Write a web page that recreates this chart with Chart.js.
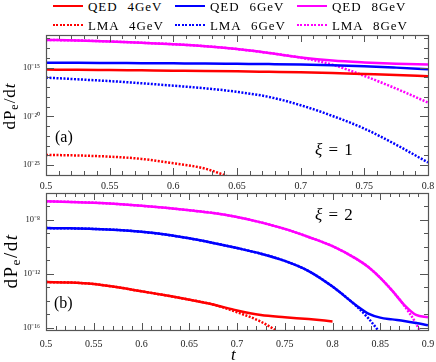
<!DOCTYPE html>
<html>
<head>
<meta charset="utf-8">
<script src="https://cdn.jsdelivr.net/npm/chart.js@4.4.0/dist/chart.umd.min.js"></script>
<style>
  body { margin: 0; background: #fff; }
  #wrap { position: relative; width: 436px; height: 362px; overflow: hidden;
          font-family: 'Liberation Serif', 'Times New Roman', serif; color: #000; }
  .box { position: absolute; left: 0; width: 436px; }
  .leg { position: absolute; height: 14px; display: flex; align-items: center; font-size: 13px;
         letter-spacing: 0.9px; word-spacing: 6px; white-space: nowrap; line-height: 1; }
  .leg .ln { width: 30px; height: 2.5px; margin-right: 5px; }
  .lab { position: absolute; white-space: nowrap; line-height: 1; }
  .ytitle { position: absolute; transform: translate(-50%, -50%) rotate(-90deg);
            white-space: nowrap; line-height: 1; }
  sub { font-size: 70%; vertical-align: -0.3em; line-height: 0; }
</style>
</head>
<body>
<div id="wrap">
  <div class="box" style="top:28px;height:164px"><canvas id="chartA"></canvas></div>
  <div class="box" style="top:190px;height:172px"><canvas id="chartB"></canvas></div>

  <div class="leg" style="left:53px;top:-1px"><span class="ln" style="background:#ff0000"></span>QED 4GeV</div>
  <div class="leg" style="left:175px;top:-1px"><span class="ln" style="background:#0000ff"></span>QED 6GeV</div>
  <div class="leg" style="left:297px;top:-1px"><span class="ln" style="background:#ff00ff"></span>QED 8GeV</div>
  <div class="leg" style="left:53px;top:18px"><span class="ln" style="background:repeating-linear-gradient(to right,#ff0000 0 2px,transparent 2px 3.5px)"></span>LMA 4GeV</div>
  <div class="leg" style="left:175px;top:18px"><span class="ln" style="background:repeating-linear-gradient(to right,#0000ff 0 2px,transparent 2px 3.5px)"></span>LMA 6GeV</div>
  <div class="leg" style="left:297px;top:18px"><span class="ln" style="background:repeating-linear-gradient(to right,#ff00ff 0 2px,transparent 2px 3.5px)"></span>LMA 8GeV</div>

  <div class="ytitle" style="left:9px;top:106px;font-size:17px;letter-spacing:1px">dP<sub>e</sub>/d<i>t</i></div>
  <div class="ytitle" style="left:10px;top:261px;font-size:19px;letter-spacing:1.5px">dP<sub>e</sub>/d<i>t</i></div>

  <div class="lab" style="left:55px;top:129px;font-size:16px">(a)</div>
  <div class="lab" style="left:54px;top:295px;font-size:16px">(b)</div>
  <div class="lab" style="left:315px;top:141px;font-size:17px;word-spacing:2px"><i>ξ</i> = 1</div>
  <div class="lab" style="left:315px;top:206px;font-size:17px;word-spacing:2px"><i>ξ</i> = 2</div>
  <div class="lab" style="left:231px;top:346px;font-size:17px"><i>t</i></div>
</div>

<script>
// panel (a), xi = 1
const tA = [0.5, 0.525, 0.55, 0.575, 0.6, 0.625, 0.65, 0.675, 0.7, 0.725, 0.75, 0.775, 0.8];
const qed4A = [6.31e-16, 6.03e-16, 5.62e-16, 5.25e-16, 4.9e-16, 4.57e-16, 4.17e-16, 3.72e-16, 3.31e-16, 2.75e-16, 2.19e-16, 1.74e-16, 1.32e-16];
const qed6A = [3.24e-15, 3.16e-15, 3.02e-15, 2.88e-15, 2.75e-15, 2.63e-15, 2.45e-15, 2.29e-15, 2.09e-15, 1.78e-15, 1.41e-15, 1.0e-15, 6.76e-16];
const qed8A = [6.92e-13, 6.03e-13, 4.79e-13, 3.55e-13, 2.51e-13, 1.58e-13, 7.94e-14, 3.16e-14, 1.12e-14, 5.25e-15, 3.39e-15, 2.51e-15, 2.14e-15];
const lma4A = [1.15e-24, 1.0e-24, 7.59e-25, 4.47e-25, 1.58e-25, 4.47e-26, 3.16e-27, null, null, null, null, null, null];
const lma6A = [9.55e-17, 6.31e-17, 4.17e-17, 2.51e-17, 1.41e-17, 7.59e-18, 3.31e-18, 1.0e-18, 1.41e-19, 1.12e-20, 5.62e-22, 1.26e-23, 1.91e-25];
const lma8A = [6.92e-13, 6.03e-13, 4.79e-13, 3.55e-13, 2.51e-13, 1.58e-13, 7.94e-14, 3.16e-14, 1.05e-14, 2.0e-15, 1.41e-16, 7.08e-18, 2.63e-19];

// panel (b), xi = 2
const tB = [0.5, 0.525, 0.55, 0.575, 0.6, 0.625, 0.65, 0.675, 0.7, 0.725, 0.75, 0.775, 0.8, 0.825, 0.8375, 0.85, 0.8625, 0.875, 0.8875, 0.9];
const qed4B = [2.4e-13, 2.24e-13, 1.74e-13, 1.0e-13, 5.01e-14, 2.51e-14, 1.2e-14, 5.25e-15, 1.91e-15, 8.91e-16, 6.03e-16, 4.37e-16, 2.95e-16, null, null, null, null, null, null, null];
const qed6B = [2.4e-9, 2.29e-9, 2.09e-9, 1.74e-9, 1.26e-9, 7.94e-10, 4.17e-10, 1.91e-10, 7.94e-11, 3.02e-11, 8.91e-12, 1.58e-12, 1.12e-13, 4.47e-15, 1.12e-15, 5.62e-16, 4.17e-16, 3.16e-16, 2.24e-16, 1.51e-16];
const qed8B = [2.29e-7, 2.09e-7, 1.82e-7, 1.45e-7, 1.07e-7, 7.59e-8, 5.01e-8, 3.16e-8, 1.58e-8, 6.31e-9, 2.09e-9, 5.25e-10, 1.1e-10, 1.26e-11, 3.16e-12, 5.01e-13, 5.62e-14, 5.01e-15, 8.91e-16, 6.03e-16];
const lma4B = [2.4e-13, 2.24e-13, 1.74e-13, 1.0e-13, 5.01e-14, 2.51e-14, 1.2e-14, 5.25e-15, 1.41e-15, 2.82e-16, 2.51e-17, null, null, null, null, null, null, null, null, null];
const lma6B = [2.4e-9, 2.29e-9, 2.09e-9, 1.74e-9, 1.26e-9, 7.94e-10, 4.17e-10, 1.91e-10, 7.94e-11, 3.02e-11, 8.91e-12, 1.58e-12, 1.12e-13, 3.98e-15, 5.01e-16, 3.98e-17, 2.51e-18, null, null, null];
const lma8B = [2.29e-7, 2.09e-7, 1.82e-7, 1.45e-7, 1.07e-7, 7.59e-8, 5.01e-8, 3.16e-8, 1.58e-8, 6.31e-9, 2.09e-9, 5.25e-10, 1.1e-10, 1.26e-11, 3.16e-12, 5.01e-13, 5.62e-14, 4.47e-15, 2.0e-16, 3.16e-18];

// tick labels
const xLabelsA = ['0.5', '0.55', '0.6', '0.65', '0.7', '0.75', '0.8'];
const xLabelsB = ['0.5', '0.55', '0.6', '0.65', '0.7', '0.75', '0.8', '0.85', '0.9'];
const yTicksA = [1e-25, 1e-20, 1e-15];
const yLabelsA = ['10⁻²⁵', '10⁻²⁰', '10⁻¹⁵'];
const yTicksB = [1e-16, 1e-12, 1e-8];
const yLabelsB = ['10⁻¹⁶', '10⁻¹²', '10⁻⁸'];

const RED = '#ff0000', BLUE = '#0000ff', MAG = '#ff00ff';
const FRAME = '#555';

function pts(t, v) {
  return t.map((x, i) => ({ x: x, y: v[i] }));
}

function line(label, t, v, color, dotted) {
  return {
    label: label,
    data: pts(t, v),
    borderColor: color,
    backgroundColor: color,
    borderWidth: 2.5,
    pointRadius: 0,
    cubicInterpolationMode: 'monotone',
    borderDash: dotted ? [2, 1.5] : [],
    borderCapStyle: 'butt',
    fill: false,
    spanGaps: false
  };
}

// inward tick marks + box frame, drawn from the chart's own scales
const frameTicks = {
  id: 'frameTicks',
  afterDraw(chart) {
    const { ctx, chartArea: a, scales } = chart;
    const x = scales.x, y = scales.y;
    ctx.save();
    ctx.strokeStyle = FRAME;
    ctx.lineWidth = 1;
    ctx.beginPath();
    x.ticks.forEach(t => {
      const px = Math.round(x.getPixelForValue(t.value)) + 0.5;
      const len = t.major ? 7 : 4;
      ctx.moveTo(px, a.bottom); ctx.lineTo(px, a.bottom - len);
      ctx.moveTo(px, a.top); ctx.lineTo(px, a.top + len);
    });
    y.ticks.forEach(t => {
      const py = Math.round(y.getPixelForValue(t.value)) + 0.5;
      if (py < a.top || py > a.bottom) return;
      const len = t.major ? 8 : 4;
      ctx.moveTo(a.left, py); ctx.lineTo(a.left + len, py);
      ctx.moveTo(a.right, py); ctx.lineTo(a.right - len, py);
    });
    ctx.stroke();
    ctx.lineWidth = 1.2;
    ctx.strokeRect(Math.round(a.left) + 0.5, Math.round(a.top) + 0.5, Math.round(a.width), Math.round(a.height));
    ctx.restore();
  }
};

function noPad(s) {
  s.paddingTop = 0; s.paddingBottom = 0; s.paddingLeft = 0; s.paddingRight = 0;
}

function makeChart(id, datasets, xmin, xmax, xLabels, ymin, ymax, decLo, decHi, yTicks, yLabels, xPad, xHeight, padTop) {
  const xVals = xLabels.map(Number);
  return new Chart(document.getElementById(id), {
    type: 'line',
    data: { datasets: datasets },
    options: {
      responsive: true,
      maintainAspectRatio: false,
      animation: false,
      layout: { padding: { left: 0, right: 8, top: padTop, bottom: 0 } },
      plugins: { legend: { display: false }, tooltip: { enabled: false } },
      scales: {
        x: {
          type: 'linear', min: xmin, max: xmax,
          grid: { display: false, drawTicks: false }, border: { display: false },
          afterBuildTicks: s => {
            const ticks = [];
            for (let i = Math.round(xmin * 100); i <= Math.round(xmax * 100); i++) {
              ticks.push({ value: i / 100, major: i % 5 === 0 });
            }
            s.ticks = ticks;
          },
          afterFit: s => { s.height = xHeight; noPad(s); },
          ticks: {
            autoSkip: false, maxRotation: 0, minRotation: 0, padding: xPad,
            color: '#222', font: { family: 'Liberation Serif', size: 10 },
            callback: v => {
              const i = xVals.findIndex(u => Math.abs(u - v) < 1e-9);
              return i >= 0 ? xLabels[i] : '';
            }
          }
        },
        y: {
          type: 'logarithmic', min: ymin, max: ymax,
          grid: { display: false, drawTicks: false }, border: { display: false },
          afterBuildTicks: s => {
            const ticks = [];
            for (let e = decLo; e <= decHi; e++) {
              const v = Number('1e' + e);
              ticks.push({ value: v, major: yTicks.some(u => Math.abs(Math.log10(u) - e) < 1e-6) });
            }
            s.ticks = ticks;
          },
          afterFit: s => { s.width = 46; noPad(s); },
          ticks: {
            autoSkip: false, padding: 6,
            color: '#222', font: { family: 'Liberation Serif', size: 8.5 },
            callback: v => {
              const i = yTicks.findIndex(u => Math.abs(Math.log10(u) - Math.log10(v)) < 1e-6);
              return i >= 0 ? yLabels[i] : '';
            }
          }
        }
      }
    },
    plugins: [frameTicks]
  });
}

makeChart('chartA', [
  line('QED 4GeV', tA, qed4A, RED, false),
  line('QED 6GeV', tA, qed6A, BLUE, false),
  line('QED 8GeV', tA, qed8A, MAG, false),
  line('LMA 4GeV', tA, lma4A, RED, true),
  line('LMA 6GeV', tA, lma6A, BLUE, true),
  line('LMA 8GeV', tA, lma8A, MAG, true)
], 0.5, 0.8, xLabelsA, 1e-26, 2.2e-12, -26, -12, yTicksA, yLabelsA, 5, 17, 7);

makeChart('chartB', [
  line('QED 4GeV', tB, qed4B, RED, false),
  line('QED 6GeV', tB, qed6B, BLUE, false),
  line('QED 8GeV', tB, qed8B, MAG, false),
  line('LMA 4GeV', tB, lma4B, RED, true),
  line('LMA 6GeV', tB, lma6B, BLUE, true),
  line('LMA 8GeV', tB, lma8B, MAG, true)
], 0.5, 0.9, xLabelsB, 6.8e-17, 9.5e-7, -16, -6, yTicksB, yLabelsB, 8, 32, 3);
</script>
</body>
</html>
